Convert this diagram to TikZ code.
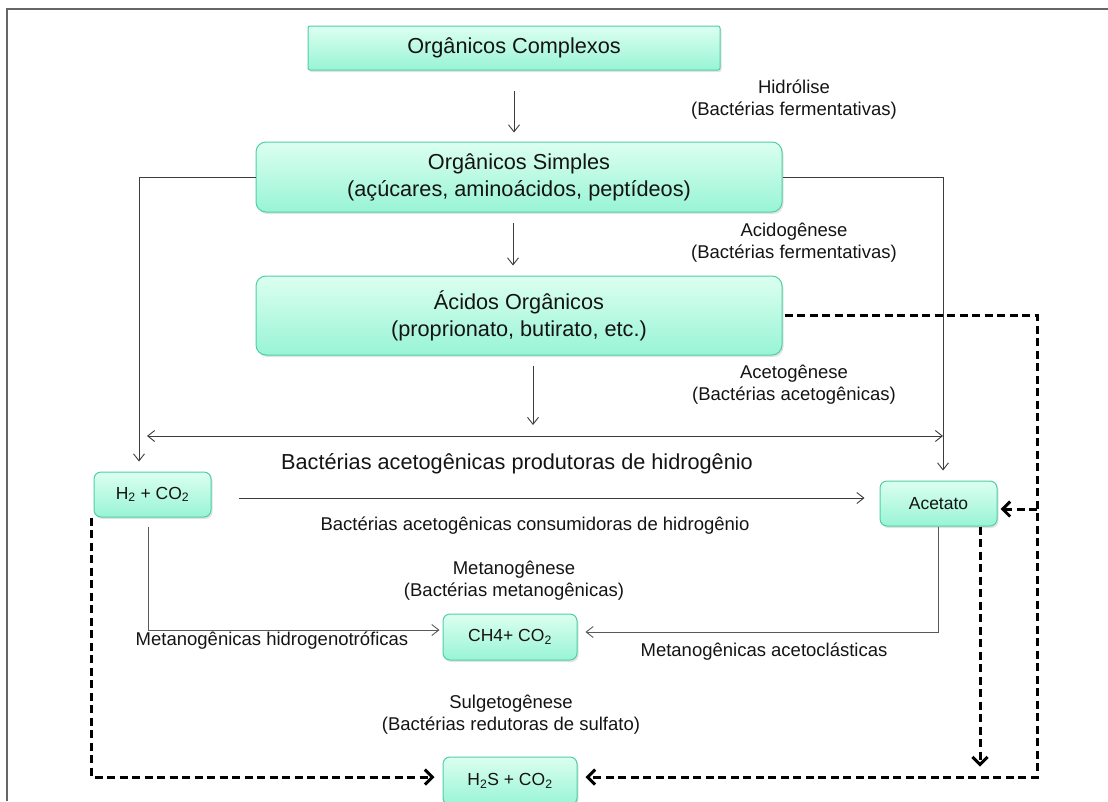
\documentclass[tikz,border=0pt]{standalone}
\usepackage{fontspec}
\setmainfont{Liberation Sans}
\usetikzlibrary{arrows.meta,shadows}
\definecolor{boxtop}{HTML}{DCFFF1}
\definecolor{boxbot}{HTML}{98F4D5}
\definecolor{boxborder}{HTML}{4ECFA6}
\definecolor{linegray}{HTML}{3C3C3C}
\definecolor{txt}{HTML}{141414}
\begin{document}
\begin{tikzpicture}[x=1pt,y=-1pt,
  box/.style={draw=boxborder, line width=1pt, top color=boxtop, bottom color=boxbot,
    drop shadow={opacity=0.22, shadow xshift=1.5pt, shadow yshift=-2pt},
    align=center, inner sep=0pt, text=txt},
  bigbox/.style={box, rounded corners=10pt, font=\fontsize{21.7}{27}\selectfont},
  smallbox/.style={box, rounded corners=7pt, font=\fontsize{17.5}{21}\selectfont},
  lbl/.style={align=center, text=txt, font=\fontsize{18.5}{22}\selectfont, inner sep=0pt},
  arr/.style={draw=linegray, line width=0.9pt, -{Straight Barb[length=7pt,width=11pt]}},
  darr/.style={draw=black, line width=3pt, dash pattern=on 8pt off 4.5pt,
    -{Straight Barb[length=7.5pt,width=15pt]}},
]
\useasboundingbox (0,0) rectangle (1108,801);
% frame
\draw[draw=gray!80!black, line width=1.3pt] (7,801) -- (7,9) -- (1108,9);

% boxes
\node[box, rounded corners=2pt, font=\fontsize{21.7}{27}\selectfont,
  minimum width=412pt, minimum height=44pt] (complexos) at (514,48) {Orgânicos Complexos};
\node[bigbox, minimum width=526pt, minimum height=70pt] (simples) at (519,177)
  {Orgânicos Simples\\(açúcares, aminoácidos, peptídeos)};
\node[bigbox, minimum width=526pt, minimum height=79pt] (acidos) at (519,315.5)
  {Ácidos Orgânicos\\(proprionato, butirato, etc.)};
\node[smallbox, minimum width=117pt, minimum height=45pt] (h2) at (152.5,494.5)
  {H\textsubscript{2} + CO\textsubscript{2}};
\node[smallbox, minimum width=117pt, minimum height=45pt] (acetato) at (938.5,503.5)
  {Acetato};
\node[smallbox, minimum width=134pt, minimum height=46pt] (ch4) at (510,637)
  {CH4+ CO\textsubscript{2}};
\node[smallbox, minimum width=134pt, minimum height=48pt] (h2s) at (510,781)
  {H\textsubscript{2}S + CO\textsubscript{2}};

% labels
\node[lbl] (hidrolise) at (794,100) {Hidrólise\\(Bactérias fermentativas)};
\node[lbl] (acidogenese) at (794,243) {Acidogênese\\(Bactérias fermentativas)};
\node[lbl] (acetogenese) at (794,385) {Acetogênese\\(Bactérias acetogênicas)};
\node[lbl, font=\fontsize{21.7}{25}\selectfont] (prod) at (517,464)
  {Bactérias acetogênicas produtoras de hidrogênio};
\node[lbl] (cons) at (535,526) {Bactérias acetogênicas consumidoras de hidrogênio};
\node[lbl] (metano) at (514,581) {Metanogênese\\(Bactérias metanogênicas)};
\node[lbl] (hidrog) at (272,641) {Metanogênicas hidrogenotróficas};
\node[lbl] (acetocl) at (764,652) {Metanogênicas acetoclásticas};
\node[lbl] (sulfo) at (511,715) {Sulgetogênese\\(Bactérias redutoras de sulfato)};

% coordinates
\coordinate (dl) at (147,436);
\coordinate (dr) at (943,436);
\coordinate (a3) at (533,425);
\coordinate (rc) at (1037,777);

% solid connectors
\draw[arr] ([yshift=-20pt]complexos.south) -- ([yshift=9pt]complexos.south |- simples.north);
\draw[arr] ([xshift=-6pt,yshift=-10pt]simples.south) -- ([xshift=-6pt,yshift=10pt]acidos.north);
\draw[arr] ([xshift=14pt,yshift=-10pt]acidos.south) -- (a3);
\draw[arr, {Straight Barb[length=7pt,width=11pt]}-{Straight Barb[length=7pt,width=11pt]}] (dl) -- (dr);
\draw[arr] (simples.west) -| ([xshift=-13.5pt,yshift=10pt]h2.north);
\draw[arr] (simples.east) -| ([xshift=4.5pt,yshift=10pt]acetato.north);
\draw[arr] ([xshift=27pt,yshift=-3.5pt]h2.east) -- ([xshift=-15pt,yshift=5.5pt]acetato.west);
\draw[arr, draw=gray!70!black] ([xshift=-4.5pt,yshift=-9pt]h2.south) |- ([xshift=-3pt,yshift=7pt]ch4.west);
\draw[arr, draw=gray!70!black] (acetato.south) |- ([xshift=8pt,yshift=5pt]ch4.east);

% dashed connectors
\draw[darr] ([xshift=2pt]acidos.east) -| (rc) -- ([xshift=8pt,yshift=4pt]h2s.east);
\draw[darr] ([yshift=-5.5pt]acetato.east -| rc) -- ([xshift=3pt,yshift=-5.5pt]acetato.east);
\draw[darr] ([xshift=41.5pt]acetato.south) -- ([xshift=41.5pt,yshift=-240pt]acetato.south);
\draw[darr] ([xshift=-2pt]h2.south west) |- ([xshift=-8pt,yshift=4pt]h2s.west);
\end{tikzpicture}
\end{document}
